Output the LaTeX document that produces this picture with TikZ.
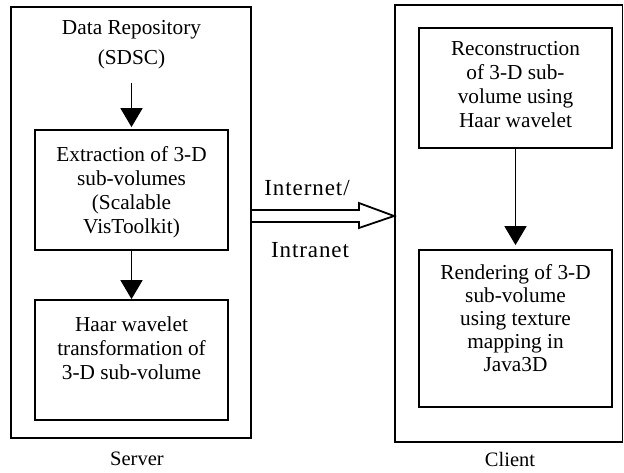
\documentclass[tikz,border=0pt]{standalone}
\usepackage{fontspec}
\setmainfont{Liberation Serif}
\usetikzlibrary{arrows.meta}
\begin{document}
\begin{tikzpicture}[x=1pt,y=-1pt,
 frame/.style={draw,line width=1.8pt,inner sep=0pt},
 box/.style={draw,line width=1.8pt,inner sep=0pt,minimum width=193pt},
 txt/.style={font=\fontsize{21.3}{24}\selectfont,align=center,inner sep=0pt,anchor=north},
 lbl/.style={font=\fontsize{20.5}{24}\selectfont,inner sep=0pt},
 net/.style={font=\fontsize{23}{26}\selectfont\addfontfeature{LetterSpace=4},inner sep=0pt},
 arr/.style={line width=1.8pt,-{Triangle[width=22pt,length=19pt]}},
 hollow/.style={line width=1.8pt,line join=miter}]
\useasboundingbox (0,0) rectangle (624,472);
% outer frames
\node[frame,minimum width=240pt,minimum height=431pt] (server) at (131,222.5) {};
\node[frame,minimum width=227.5pt,minimum height=437pt] (client) at (508.75,223.5) {};
% inner boxes
\node[box,minimum height=120pt] (b1) at (131.5,190) {};
\node[box,minimum height=120pt] (b2) at (131.5,360) {};
\node[box,minimum height=120pt] (b3) at (515.5,88) {};
\node[box,minimum height=157pt] (b4) at (515.5,328.5) {};
% texts
\node[txt,font=\fontsize{21.3}{30}\selectfont] (repo) at (131.5,20) {Data Repository\\(SDSC)};
\node[txt] (t1) at ([yshift=-17pt]b1.north) {Extraction of 3-D\\sub-volumes\\(Scalable\\VisToolkit)};
\node[txt] (t2) at ([yshift=-17pt]b2.north) {Haar wavelet\\transformation of\\3-D sub-volume};
\node[txt] (t3) at ([yshift=-14pt]b3.north) {Reconstruction\\of 3-D sub-\\volume using\\Haar wavelet};
\node[txt,font=\fontsize{21.3}{23}\selectfont] (t4) at ([yshift=-15pt]b4.north) {Rendering of 3-D\\sub-volume\\using texture\\mapping in\\Java3D};
\node[lbl] (sl) at (137,459) {Server};
\node[lbl] (cl) at (510,459) {Client};
\node[net] (inet) at (307,188) {Internet/};
\node[net] (intra) at (310,250) {Intranet};
% arrows
\draw[arr,shorten <=13.5pt,shorten >=2pt] (repo.south) -- (b1.north);
\draw[arr] (b1.south) -- (b2.north);
\draw[arr,shorten >=4pt] (b3.south) -- (b4.north);
% hollow block arrow
\coordinate (ay) at (0,216);
\coordinate (ns) at (server.east |- ay);
\coordinate (tip) at (client.west |- ay);
\draw[hollow] ([yshift=6pt]ns) -- ([xshift=107pt,yshift=6pt]ns) -- ([xshift=107pt,yshift=13pt]ns) -- (tip) -- ([xshift=107pt,yshift=-12pt]ns) -- ([xshift=107pt,yshift=-6pt]ns) -- ([yshift=-6pt]ns);
\end{tikzpicture}
\end{document}
